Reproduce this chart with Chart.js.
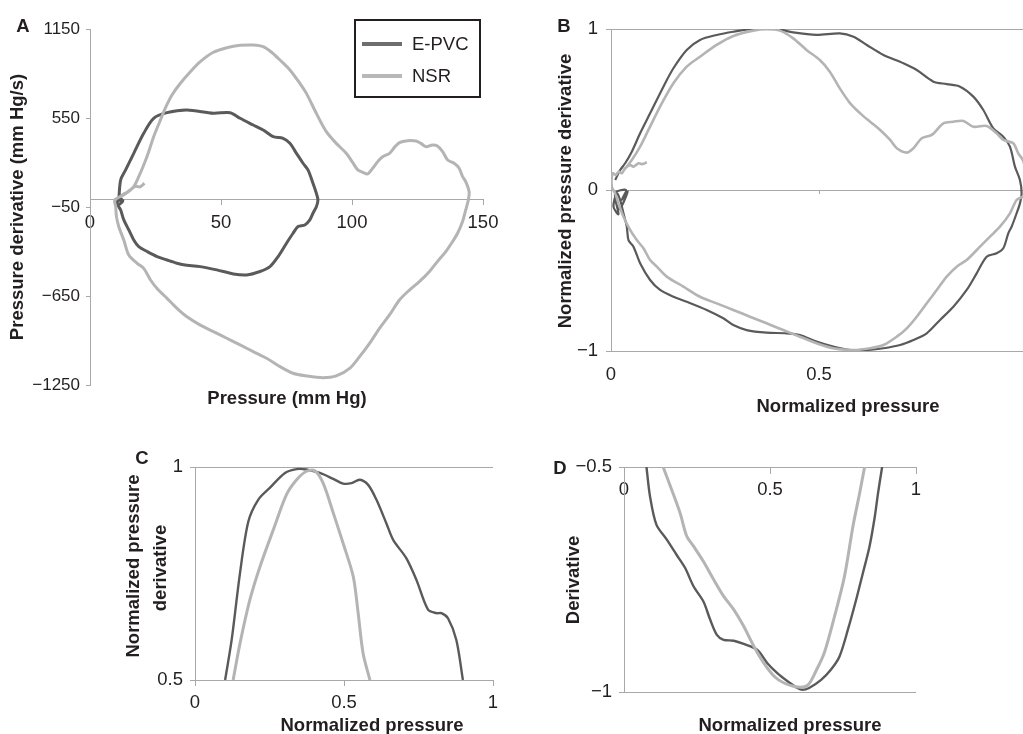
<!DOCTYPE html>
<html><head><meta charset="utf-8">
<script src="https://cdn.jsdelivr.net/npm/chart.js@4.4.1/dist/chart.umd.min.js"></script>
<style>
html,body{margin:0;padding:0;background:#fff;overflow:hidden}
#wrap{position:relative;width:1023px;height:734px;overflow:hidden;background:#fff}
#wrap canvas{position:absolute;left:0;top:0}
.t{position:absolute;white-space:nowrap;font-family:"Liberation Sans",Arial,Helvetica,sans-serif;color:#231f20;line-height:1;transform:translate(-50%,-50%)}
.b{font-weight:bold}
</style></head><body><div id="wrap"></div>
<script>
// ---------- Panel A: pressure (mm Hg) vs pressure derivative (mm Hg/s) ----------
const A_EPVC_X = [11.0,11.7,13.6,16.7,20.5,24.3,29.4,37.0,47.1,53.5,57.3,62.3,66.1,69.9,73.7,76.3,78.8,81.3,83.2,85.1,86.4,87.0,86.4,85.1,83.9,82.0,79.4,77.5,75.0,71.8,68.7,64.9,59.8,54.7,48.4,42.1,35.7,33.2,29.4,25.6,21.8,18.6,16.7,14.8,12.9,11.7,10.4,11.5,10.2,12.5,11.0,12.0];
const A_EPVC_Y = [2,132,200,312,447,548,586,604,582,586,548,503,469,424,413,379,312,245,200,110,42,-3,-48,-92,-137,-171,-182,-227,-294,-384,-452,-485,-508,-501,-474,-452,-440,-429,-407,-384,-350,-317,-272,-204,-137,-70,-25,30,-40,-10,15,-20];
const A_NSR_X = [11.7,14.2,16.7,18.6,20.5,22.4,24.3,26.6,29.0,31.3,34.5,38.3,42.1,47.1,52.2,57.3,62.3,66.1,69.3,72.5,76.3,80.1,82.6,86.4,90.2,94.0,97.8,100.3,102.2,104.1,106.0,107.9,109.8,111.7,114.3,116.2,118.1,121.2,124.4,126.3,128.2,130.7,132.6,134.6,136.5,139.0,140.9,142.2,143.4,144.7,144.4,143.4,142.2,140.3,138.4,135.8,132.6,129.5,125.7,121.9,118.1,114.3,110.5,106.7,102.9,99.1,94.0,88.9,82.6,77.5,72.5,67.4,62.3,57.3,52.2,47.1,42.1,37.0,33.2,29.4,25.6,23.1,20.5,18.0,14.8,12.9,11.0,10.1,9.8,9.4,11.0,12.7,14.2,15.7,17.4,19.0,20.8];
const A_NSR_Y = [20,47,87,154,233,323,424,525,626,705,784,862,930,993,1024,1040,1042,1031,993,941,874,784,716,581,458,379,312,249,200,184,173,211,256,289,312,352,384,397,395,379,357,368,361,323,267,245,211,155,121,53,-3,-70,-148,-227,-283,-351,-418,-486,-553,-610,-677,-778,-868,-969,-1059,-1138,-1189,-1201,-1189,-1171,-1126,-1070,-1025,-980,-935,-890,-846,-790,-733,-666,-599,-542,-464,-430,-374,-273,-183,-115,-48,-3,15,35,50,70,90,85,110];
const A_X_TICKS = [0,50,100,150];
const A_Y_TICKS = [-1250,-650,-50,550,1150];

// ---------- Panel B: normalized loops ----------
const B_EPVC_X = [0.010,0.022,0.034,0.050,0.070,0.094,0.126,0.150,0.182,0.214,0.254,0.294,0.342,0.398,0.438,0.494,0.550,0.583,0.615,0.655,0.703,0.735,0.775,0.807,0.839,0.871,0.895,0.919,0.943,0.959,0.971,0.983,0.987,0.983,0.975,0.963,0.955,0.943,0.927,0.903,0.879,0.855,0.823,0.791,0.759,0.727,0.695,0.655,0.615,0.575,0.534,0.494,0.454,0.422,0.374,0.326,0.294,0.270,0.230,0.182,0.150,0.118,0.094,0.070,0.054,0.042,0.038,0.030,0.022,0.014,0.006,0.018,0.010,0.036,0.026,0.040,0.020,0.008];
const B_EPVC_Y = [0.062,0.124,0.166,0.238,0.352,0.476,0.642,0.756,0.870,0.932,0.963,0.983,1.0,1.0,0.979,0.963,0.973,0.952,0.901,0.839,0.787,0.745,0.673,0.658,0.642,0.580,0.497,0.383,0.331,0.269,0.145,0.062,-0.021,-0.083,-0.145,-0.228,-0.269,-0.362,-0.393,-0.414,-0.518,-0.621,-0.725,-0.807,-0.890,-0.932,-0.963,-0.983,-0.994,-0.994,-0.973,-0.942,-0.901,-0.890,-0.886,-0.870,-0.839,-0.797,-0.745,-0.694,-0.663,-0.621,-0.559,-0.455,-0.352,-0.311,-0.228,-0.145,-0.062,-0.021,-0.104,-0.150,-0.020,0.000,-0.060,-0.010,-0.120,-0.050];
const B_NSR_X = [0.030,0.050,0.070,0.090,0.118,0.150,0.182,0.214,0.254,0.294,0.342,0.374,0.406,0.438,0.470,0.502,0.526,0.550,0.575,0.599,0.623,0.647,0.671,0.687,0.711,0.727,0.747,0.771,0.799,0.823,0.847,0.871,0.903,0.927,0.943,0.967,0.979,0.990,0.997,1.0,0.996,0.990,0.975,0.959,0.935,0.911,0.887,0.855,0.831,0.807,0.783,0.759,0.735,0.711,0.687,0.655,0.623,0.583,0.534,0.494,0.454,0.414,0.374,0.334,0.294,0.254,0.214,0.174,0.134,0.110,0.094,0.078,0.062,0.046,0.030,0.018,0.010,0.002,0.004,0.012,0.018,0.026,0.034,0.046,0.054,0.066,0.076,0.086];
const B_NSR_Y = [0.12,0.186,0.269,0.373,0.518,0.663,0.766,0.828,0.901,0.957,0.990,0.998,0.990,0.942,0.870,0.807,0.735,0.631,0.538,0.476,0.424,0.373,0.311,0.259,0.232,0.259,0.321,0.342,0.414,0.424,0.429,0.393,0.398,0.352,0.311,0.290,0.228,0.186,0.12,0.05,-0.02,-0.041,-0.062,-0.145,-0.228,-0.290,-0.352,-0.435,-0.476,-0.538,-0.621,-0.704,-0.787,-0.859,-0.911,-0.963,-0.983,-0.994,-0.983,-0.952,-0.911,-0.870,-0.828,-0.787,-0.745,-0.704,-0.663,-0.600,-0.538,-0.476,-0.435,-0.362,-0.311,-0.248,-0.166,-0.083,-0.021,0.021,0.104,0.093,0.114,0.104,0.135,0.155,0.145,0.166,0.161,0.172];
const B_X_TICKS = [0,0.5,1];
const B_Y_TICKS = [-1,0,1];

// ---------- Panel C: upper half zoom ----------
const C_EPVC_X = [0.101,0.123,0.151,0.179,0.212,0.251,0.302,0.341,0.374,0.419,0.464,0.497,0.525,0.553,0.581,0.609,0.642,0.665,0.709,0.743,0.782,0.810,0.827,0.849,0.877,0.899];
const C_EPVC_Y = [0.5,0.594,0.751,0.872,0.923,0.951,0.986,0.995,0.994,0.986,0.972,0.961,0.962,0.970,0.958,0.923,0.868,0.829,0.786,0.735,0.665,0.657,0.657,0.645,0.594,0.5];
const C_NSR_X = [0.128,0.151,0.184,0.218,0.263,0.307,0.341,0.374,0.402,0.430,0.464,0.497,0.531,0.547,0.564,0.587];
const C_NSR_Y = [0.5,0.586,0.688,0.766,0.853,0.935,0.970,0.990,0.991,0.962,0.892,0.821,0.743,0.660,0.563,0.5];
const C_X_TICKS = [0,0.5,1];
const C_Y_TICKS = [0.5,1];

// ---------- Panel D: lower half zoom ----------
const D_EPVC_X = [0.077,0.089,0.111,0.146,0.180,0.209,0.238,0.272,0.295,0.318,0.341,0.376,0.410,0.456,0.491,0.525,0.560,0.594,0.611,0.634,0.675,0.709,0.738,0.767,0.795,0.818,0.841,0.859,0.870,0.884];
const D_EPVC_Y = [-0.5,-0.565,-0.628,-0.661,-0.695,-0.724,-0.765,-0.799,-0.839,-0.873,-0.884,-0.886,-0.893,-0.906,-0.936,-0.958,-0.976,-0.991,-0.995,-0.991,-0.973,-0.950,-0.921,-0.861,-0.795,-0.736,-0.676,-0.610,-0.558,-0.5];
const D_NSR_X = [0.134,0.163,0.192,0.215,0.238,0.272,0.307,0.341,0.376,0.410,0.445,0.479,0.514,0.548,0.594,0.629,0.657,0.686,0.721,0.755,0.784,0.807,0.824];
const D_NSR_Y = [-0.5,-0.550,-0.602,-0.654,-0.676,-0.710,-0.750,-0.787,-0.817,-0.854,-0.899,-0.936,-0.965,-0.980,-0.989,-0.985,-0.954,-0.913,-0.832,-0.743,-0.632,-0.558,-0.5];
const D_X_TICKS = [0,0.5,1];
const D_Y_TICKS = [-1,-0.5];

const SERIES = ['E-PVC','NSR'];

// ---------- styling ----------
const COL_EPVC = '#5a5a5a', COL_NSR = '#b4b4b4', AXIS = '#a8a8a8', TXT = '#231f20';
const FONT = '"Liberation Sans", Arial, Helvetica, sans-serif';
const CW = 1100, CH = 734, YW = 60, XH = 40;
const wrap = document.getElementById('wrap');

function fmt(v){ return (v < 0 ? '\u2212' : '') + String(Math.abs(v)); }
function pts(xs, ys){ return xs.map((x, i) => ({x: x, y: ys[i]})); }

function panel(o){
  const c = document.createElement('canvas');
  c.width = CW; c.height = CH; c.style.width = CW + 'px'; c.style.height = CH + 'px';
  wrap.appendChild(c);
  const xObj = typeof o.xPos === 'object';
  const pad = {left: o.L - YW, top: o.T, right: CW - o.R, bottom: xObj ? CH - o.B : CH - o.B - XH};
  const scales = {
    x: {type: 'linear', position: o.xPos, min: o.xMin, max: o.xMax,
      afterBuildTicks: s => { s.ticks = o.xTicks.map(v => ({value: v})); },
      afterFit: s => { if (!xObj) s.height = XH; },
      border: {color: AXIS, width: 1},
      grid: {drawOnChartArea: false, color: AXIS, lineWidth: 1, tickLength: o.xTL || 1, drawTicks: o.xTL > 0},
      ticks: {padding: o.xPad, color: TXT, font: {family: FONT, size: o.xFs}, callback: v => fmt(v), maxRotation: 0, autoSkip: false}
    },
    y: {type: 'linear', position: 'left', min: o.yMin, max: o.yMax,
      afterBuildTicks: s => { s.ticks = o.yTicks.map(v => ({value: v})); },
      afterFit: s => { s.width = YW; },
      border: {color: AXIS, width: 1},
      grid: {drawOnChartArea: o.yGrid, color: AXIS, lineWidth: 1, tickLength: o.yTL},
      ticks: {padding: o.yPad, color: TXT, font: {family: FONT, size: o.yFs}, callback: v => fmt(v), autoSkip: false}
    }
  };
  if (o.zeroTicks) {
    scales.x0 = {type: 'linear', position: {y: 0}, min: o.xMin, max: o.xMax,
      afterBuildTicks: s => { s.ticks = o.zeroTicks.map(v => ({value: v})); },
      border: {display: false},
      grid: {drawOnChartArea: false, color: AXIS, tickLength: 4},
      ticks: {display: false}
    };
  }
  new Chart(c, {
    type: 'scatter',
    data: {datasets: [
      {label: SERIES[1], data: pts(o.nx, o.ny), borderColor: COL_NSR, borderWidth: o.lwN, showLine: true, pointRadius: 0, tension: 0.3, order: 0},
      {label: SERIES[0], data: pts(o.ex, o.ey), borderColor: COL_EPVC, borderWidth: o.lwE, showLine: true, pointRadius: 0, tension: 0.3, order: 1}
    ]},
    options: {
      responsive: false, animation: false, events: [],
      layout: {padding: pad},
      plugins: {legend: {display: false}, tooltip: {enabled: false}},
      scales: scales
    }
  });
}

panel({L: 90, T: 29, R: 483, B: 385, xPos: {y: 0}, xMin: 0, xMax: 150, yMin: -1250, yMax: 1150,
  xTicks: A_X_TICKS, yTicks: A_Y_TICKS, xTL: 5, xPad: 7, xFs: 18.5, yTL: 4, yPad: 6, yFs: 17, yGrid: false,
  ex: A_EPVC_X, ey: A_EPVC_Y, nx: A_NSR_X, ny: A_NSR_Y, lwE: 3, lwN: 3});

panel({L: 611, T: 29, R: 1027, B: 351, xPos: 'bottom', xMin: 0, xMax: 1, yMin: -1, yMax: 1,
  xTicks: B_X_TICKS, yTicks: B_Y_TICKS, xTL: 0, xPad: 13, xFs: 18.5, yTL: 5, yPad: 8, yFs: 18.5, yGrid: true,
  zeroTicks: [0.5],
  ex: B_EPVC_X, ey: B_EPVC_Y, nx: B_NSR_X, ny: B_NSR_Y, lwE: 2.2, lwN: 2.6});

panel({L: 195, T: 467, R: 493, B: 680, xPos: 'bottom', xMin: 0, xMax: 1, yMin: 0.5, yMax: 1,
  xTicks: C_X_TICKS, yTicks: C_Y_TICKS, xTL: 6, xPad: 6, xFs: 18.5, yTL: 5, yPad: 7, yFs: 18.5, yGrid: true,
  ex: C_EPVC_X, ey: C_EPVC_Y, nx: C_NSR_X, ny: C_NSR_Y, lwE: 2.4, lwN: 3});

panel({L: 624, T: 467, R: 916, B: 692, xPos: {y: -0.5}, xMin: 0, xMax: 1, yMin: -1, yMax: -0.5,
  xTicks: D_X_TICKS, yTicks: D_Y_TICKS, xTL: 6, xPad: 6, xFs: 18.5, yTL: 5, yPad: 7, yFs: 18.5, yGrid: true,
  ex: D_EPVC_X, ey: D_EPVC_Y, nx: D_NSR_X, ny: D_NSR_Y, lwE: 2.4, lwN: 3});

// ---------- text ----------
function text(s, cx, cy, size, bold, rot){
  const d = document.createElement('div');
  d.className = 't' + (bold ? ' b' : '');
  d.textContent = s;
  d.style.left = cx + 'px'; d.style.top = cy + 'px'; d.style.fontSize = size + 'px';
  if (rot) d.style.transform = 'translate(-50%,-50%) rotate(-90deg)';
  wrap.appendChild(d);
  return d;
}
text('A', 23, 26, 18.5, true);
text('B', 564, 26, 18.5, true);
text('C', 142, 458, 18.5, true);
text('D', 560, 468, 18.5, true);
text('Pressure (mm Hg)', 287, 398, 18.5, true);
text('Pressure derivative (mm Hg/s)', 17, 207, 18.5, true, true);
text('Normalized pressure', 848, 406, 18.5, true);
text('Normalized pressure derivative', 565, 191, 18.5, true, true);
text('Normalized pressure', 372, 725, 18.5, true);
text('Normalized pressure', 133, 566, 18.5, true, true);
text('derivative', 160, 568, 18.5, true, true);
text('Normalized pressure', 790, 725, 18.5, true);
text('Derivative', 573, 580, 18.5, true, true);

// legend for panel A
const box = document.createElement('div');
box.style.cssText = 'position:absolute;left:354px;top:19px;width:127px;height:79px;box-sizing:border-box;border:2px solid #231f20;background:transparent';
wrap.appendChild(box);
function swatch(y, col){
  const s = document.createElement('div');
  s.style.cssText = 'position:absolute;left:362px;top:' + (y - 2) + 'px;width:40px;height:4px;background:' + col;
  wrap.appendChild(s);
}
swatch(44, '#6e6e6e');
swatch(76, '#b8b8b8');
const l1 = text(SERIES[0], 412, 44, 18.5, false); l1.style.transform = 'translate(0,-50%)';
const l2 = text(SERIES[1], 412, 76, 18.5, false); l2.style.transform = 'translate(0,-50%)';
</script>
</body></html>
